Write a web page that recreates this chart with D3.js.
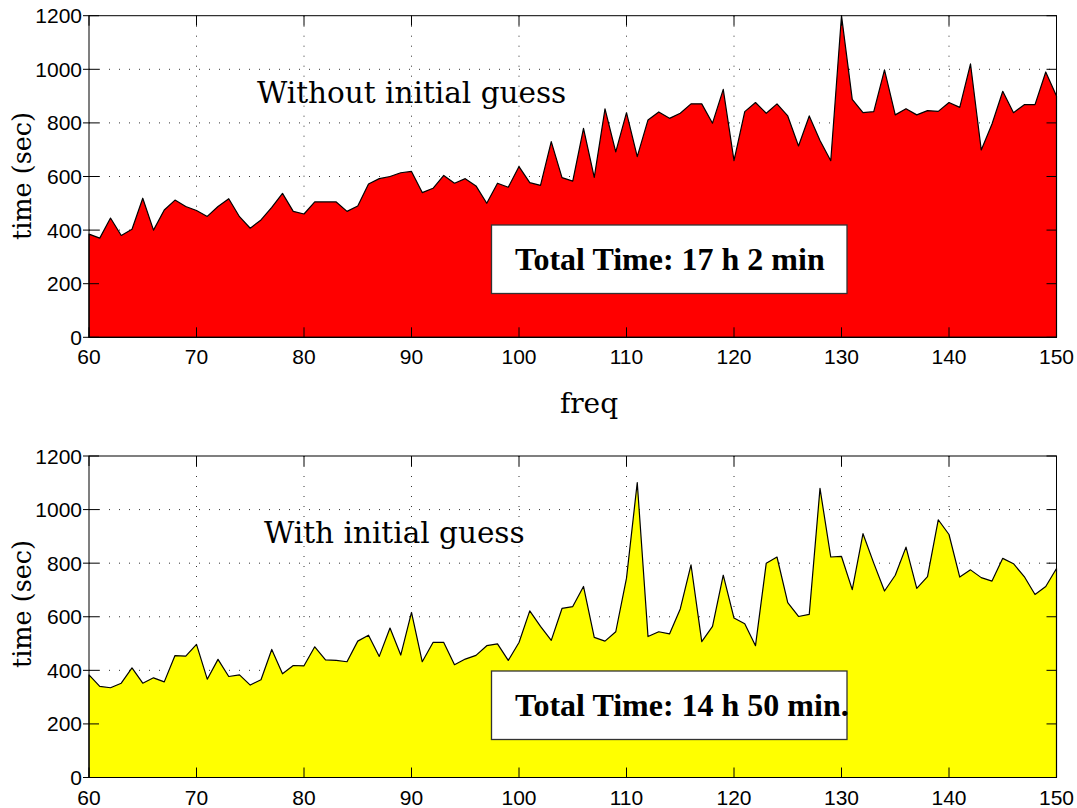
<!DOCTYPE html>
<html>
<head>
<meta charset="utf-8">
<script src="https://cdn.jsdelivr.net/npm/d3@7"></script>
<style>
  body { margin: 0; background: #fff; }
  svg { display: block; }
</style>
</head>
<body>
<script>
// frequencies on the x axis
const freq = [60,61,62,63,64,65,66,67,68,69,70,71,72,73,74,75,76,77,78,79,80,81,82,83,84,85,86,87,88,89,90,
  91,92,93,94,95,96,97,98,99,100,101,102,103,104,105,106,107,108,109,110,111,112,113,114,115,116,117,118,119,120,
  121,122,123,124,125,126,127,128,129,130,131,132,133,134,135,136,137,138,139,140,141,142,143,144,145,146,147,148,149,150];

// time (sec) without initial guess
const timeWithout = [385,370,445,380,403,519,400,475,512,488,473,451,488,517,450,407,438,485,537,470,460,505,505,505,470,490,572,592,600,614,619,
  540,556,604,575,592,565,500,575,560,637,577,567,730,596,583,780,597,852,692,838,674,811,841,817,836,871,871,799,925,
  659,842,876,836,871,826,714,826,734,659,1200,888,838,842,998,830,853,830,846,843,876,858,1020,699,796,918,838,868,868,990,900];

// time (sec) with initial guess
const timeWith = [383,340,335,352,409,352,372,357,455,453,497,367,441,377,383,345,365,478,387,418,417,488,439,437,432,509,531,452,558,457,616,
  432,504,504,421,442,456,492,499,437,504,622,564,512,631,638,713,523,509,544,744,1101,526,544,536,629,794,507,564,755,
  595,574,492,800,823,653,601,609,1079,823,825,701,910,800,696,755,860,706,750,962,907,748,775,746,733,818,798,750,683,713,780];

const xTicks = [60,70,80,90,100,110,120,130,140,150];
const yTicks = [0,200,400,600,800,1000,1200];

const W = 1077, H = 808;
const svg = d3.select('body').append('svg').attr('width', W).attr('height', H);

const x = d3.scaleLinear().domain([60, 150]).range([89, 1056.5]);

function drawPanel(values, fill, top, bottom, note, total, noteX, noteY, labelY, boxTop) {
  const y = d3.scaleLinear().domain([0, 1200]).range([bottom, top]);
  const g = svg.append('g');

  // dotted grid
  g.selectAll('.gx').data(xTicks.slice(1, -1)).enter().append('line')
    .attr('x1', d => x(d)).attr('x2', d => x(d))
    .attr('y1', top).attr('y2', bottom)
    .attr('stroke', '#333').attr('stroke-width', 1).attr('stroke-dasharray', '1,9');
  g.selectAll('.gy').data(yTicks.slice(1, -1)).enter().append('line')
    .attr('y1', d => y(d)).attr('y2', d => y(d))
    .attr('x1', x(60)).attr('x2', x(150))
    .attr('stroke', '#333').attr('stroke-width', 1).attr('stroke-dasharray', '1,9');

  // area
  const area = d3.area().x((d, i) => x(freq[i])).y0(y(0)).y1(d => y(d));
  g.append('path').datum(values).attr('d', area)
    .attr('fill', fill).attr('stroke', '#000').attr('stroke-width', 1.2)
    .attr('stroke-linejoin', 'round');

  // frame
  g.append('rect').attr('x', x(60)).attr('y', top)
    .attr('width', x(150) - x(60)).attr('height', bottom - top)
    .attr('fill', 'none').attr('stroke', '#000').attr('stroke-width', 1);

  // ticks (inward, all sides)
  const tl = 10;
  xTicks.forEach(t => {
    g.append('line').attr('x1', x(t)).attr('x2', x(t)).attr('y1', top).attr('y2', top + tl).attr('stroke', '#000');
    g.append('line').attr('x1', x(t)).attr('x2', x(t)).attr('y1', bottom).attr('y2', bottom - tl).attr('stroke', '#000');
  });
  yTicks.forEach(t => {
    g.append('line').attr('x1', x(60) - 6).attr('x2', x(60) + tl).attr('y1', y(t)).attr('y2', y(t)).attr('stroke', '#000');
    g.append('line').attr('x1', x(150)).attr('x2', x(150) - tl).attr('y1', y(t)).attr('y2', y(t)).attr('stroke', '#000');
  });

  // tick labels
  g.selectAll('.xl').data(xTicks).enter().append('text')
    .attr('x', d => x(d)).attr('y', bottom + 27)
    .attr('text-anchor', 'middle')
    .style('font-family', '"Liberation Sans", Arial, sans-serif').style('font-size', '21px')
    .text(d => d);
  g.selectAll('.yl').data(yTicks).enter().append('text')
    .attr('x', 82).attr('y', d => y(d) + 7.5)
    .attr('text-anchor', 'end')
    .style('font-family', '"Liberation Sans", Arial, sans-serif').style('font-size', '21px')
    .text(d => d);

  // y label
  g.append('text')
    .attr('transform', 'translate(31,' + labelY + ') rotate(-90)')
    .attr('text-anchor', 'middle')
    .style('font-family', '"DejaVu Serif", serif').style('font-size', '25.5px')
    .text('time (sec)');

  // annotation
  g.append('text').attr('x', noteX).attr('y', noteY)
    .style('font-family', '"DejaVu Serif", serif').style('font-size', '29.5px')
    .text(note);

  // total time box
  g.append('rect').attr('x', 491.5).attr('y', boxTop)
    .attr('width', 355.5).attr('height', 68.5)
    .attr('fill', '#fff').attr('stroke', '#333').attr('stroke-width', 1.3);
  g.append('text').attr('x', 515).attr('y', boxTop + 45)
    .style('font-family', '"Liberation Serif", "Times New Roman", serif')
    .style('font-size', '32px').style('font-weight', 'bold')
    .text(total);
}

drawPanel(timeWithout, '#ff0000', 15.7, 337.3, 'Without initial guess', 'Total Time: 17 h 2 min', 257, 103, 176, 225);
drawPanel(timeWith, '#ffff00', 456, 777.5, 'With initial guess', 'Total Time: 14 h 50 min.', 264, 543, 604, 671);

// x label of the top panel
svg.append('text').attr('x', 589).attr('y', 413)
  .attr('text-anchor', 'middle')
  .style('font-family', '"DejaVu Serif", serif').style('font-size', '28px')
  .text('freq');
</script>
</body>
</html>
